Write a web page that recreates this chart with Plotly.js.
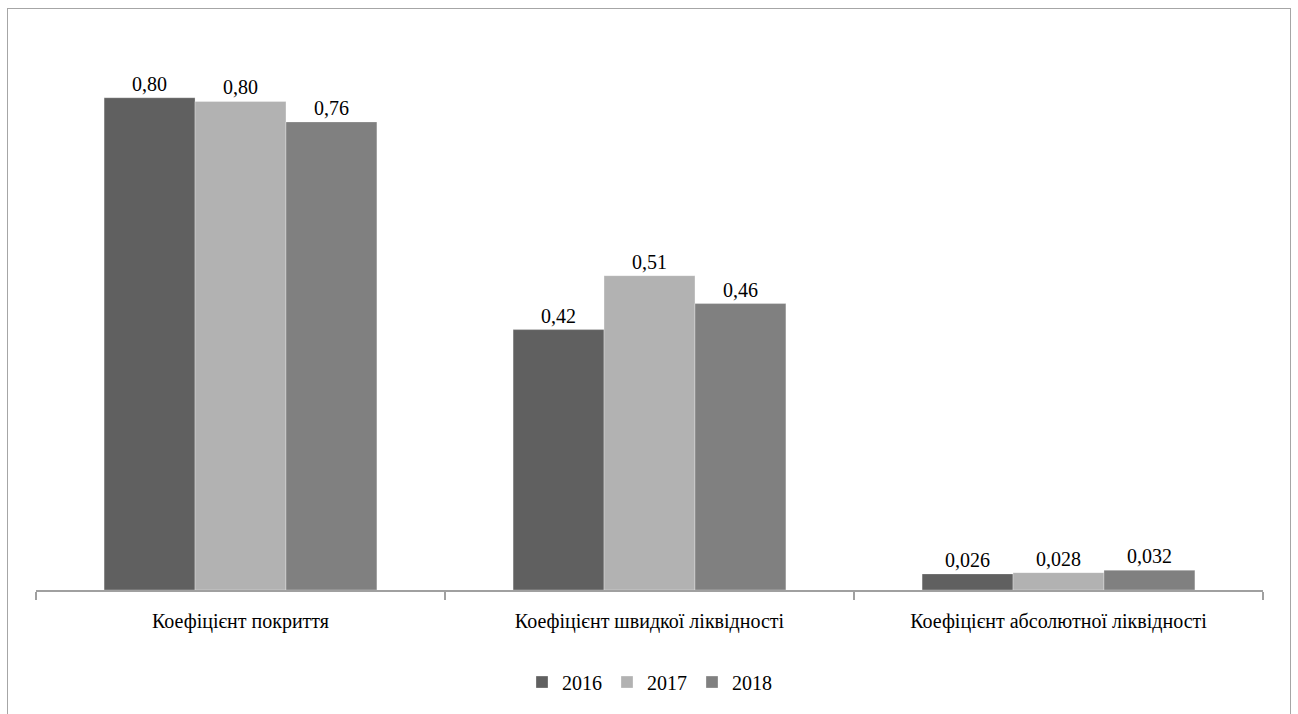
<!DOCTYPE html>
<html>
<head>
<meta charset="utf-8">
<script src="https://cdn.plot.ly/plotly-3.0.1.min.js"></script>
<style>
html,body{margin:0;padding:0;background:#fff;}
#wrap{position:relative;width:1298px;height:714px;overflow:hidden;}
#chart{width:1298px;height:714px;}
#frame{position:absolute;left:7px;top:8px;width:1284px;height:760px;border:1.5px solid #a6a6a6;box-sizing:border-box;pointer-events:none;}
#chart svg text{font-family:"Liberation Serif","Times New Roman",serif !important;}
</style>
</head>
<body>
<div id="wrap"><div id="chart"></div><div id="frame"></div></div>
<script>
const categories = ["Коефіцієнт покриття", "Коефіцієнт швидкої ліквідності", "Коефіцієнт абсолютної ліквідності"];
const years = ["2016", "2017", "2018"];
const values2016 = [0.794, 0.42, 0.026];
const values2017 = [0.788, 0.507, 0.028];
const values2018 = [0.755, 0.462, 0.032];
const labels2016 = ["0,80", "0,42", "0,026"];
const labels2017 = ["0,80", "0,51", "0,028"];
const labels2018 = ["0,76", "0,46", "0,032"];
const colors = ["#606060", "#b2b2b2", "#808080"];

const seriesValues = [values2016, values2017, values2018];
const seriesLabels = [labels2016, labels2017, labels2018];

const traces = years.map((y, i) => ({
  type: "bar",
  name: y,
  x: categories,
  y: seriesValues[i],
  text: seriesLabels[i],
  textposition: "outside",
  textfont: {family: "Times New Roman", size: 20, color: "#000"},
  cliponaxis: false,
  marker: {color: colors[i], line: {color: "rgba(255,255,255,0.6)", width: 0.5}}
}));

const layout = {
  width: 1298, height: 714,
  margin: {l: 36, r: 35, t: 32, b: 119},
  paper_bgcolor: "#fff", plot_bgcolor: "#fff",
  font: {family: "Times New Roman", size: 20, color: "#000"},
  barmode: "group",
  bargap: 0.333,
  bargroupgap: 0,
  showlegend: true,
  legend: {orientation: "h", x: 0.5, xanchor: "center", y: -0.13, yanchor: "top",
           font: {family: "Times New Roman", size: 20, color: "#000"}, traceorder: "normal"},
  xaxis: {
    type: "category",
    showline: true, linecolor: "#a0a0a0", linewidth: 1.5,
    ticks: "outside", tickson: "boundaries", ticklen: 8, tickcolor: "#a0a0a0", tickwidth: 1.5,
    ticklabelstandoff: 12,
    tickfont: {family: "Times New Roman", size: 20, color: "#000"},
    showgrid: false, zeroline: false
  },
  yaxis: {range: [0, 0.9], visible: false, showgrid: false, zeroline: false}
};

Plotly.newPlot("chart", traces, layout, {displayModeBar: false});
</script>
</body>
</html>
